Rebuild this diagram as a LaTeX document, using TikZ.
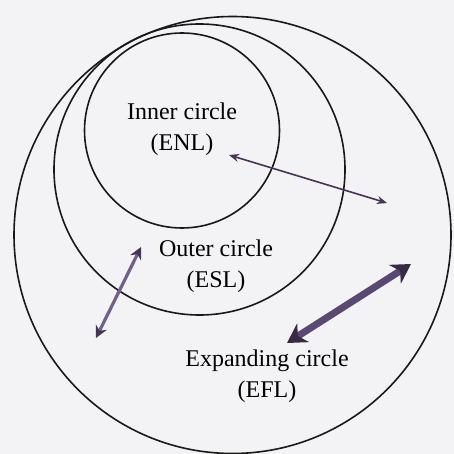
\documentclass[tikz,border=0pt]{standalone}
\usepackage{fontspec}
\setmainfont{Liberation Serif}
\usetikzlibrary{arrows.meta}
\definecolor{bg}{RGB}{243,242,244}
\definecolor{arrA}{RGB}{70,52,86}
\definecolor{arrB}{RGB}{112,96,140}
\definecolor{arrC}{RGB}{88,72,114}
\begin{document}
\begin{tikzpicture}[x=1pt,y=-1pt,
  ring/.style={circle,draw=black!90,line width=1.6pt,inner sep=0pt},
  lbl/.style={align=center,font=\fontsize{24}{31}\selectfont,text=black,inner sep=0pt}]
\fill[bg] (0,0) rectangle (454,454);
\useasboundingbox (0,0) rectangle (454,454);
\node[ring,minimum size=437pt] (outer) at (232.5,235) {};
\node[ring,minimum size=291pt] (middle) at (199.5,169.5) {};
\node[ring,minimum size=195pt] (inner) at (182,130.5) {};
\node[lbl] (tin) at (182,129) {Inner circle\\(ENL)};
\node[lbl] (tout) at (216,266) {Outer circle\\(ESL)};
\node[lbl] (texp) at (267,376) {Expanding circle\\(EFL)};
\coordinate (a1) at (229,155);
\coordinate (a2) at (387,203);
\coordinate (b1) at (96,338);
\coordinate (b2) at (141,247);
\coordinate (c1) at (287,343);
\coordinate (c2) at (411,264);
\draw[arrA,line width=1.6pt,{Stealth[length=10pt,width=8pt]}-{Stealth[length=10pt,width=8pt]}] (a1) -- (a2);
\draw[arrB,line width=3.2pt,{Stealth[length=12pt,width=12pt,color=arrA]}-{Stealth[length=12pt,width=12pt,color=arrA]}] (b1) -- (b2);
\draw[arrC,line width=7pt,{Stealth[length=19pt,width=22pt,color=arrA!80!black]}-{Stealth[length=19pt,width=22pt,color=arrA!80!black]}] (c1) -- (c2);
\end{tikzpicture}
\end{document}
